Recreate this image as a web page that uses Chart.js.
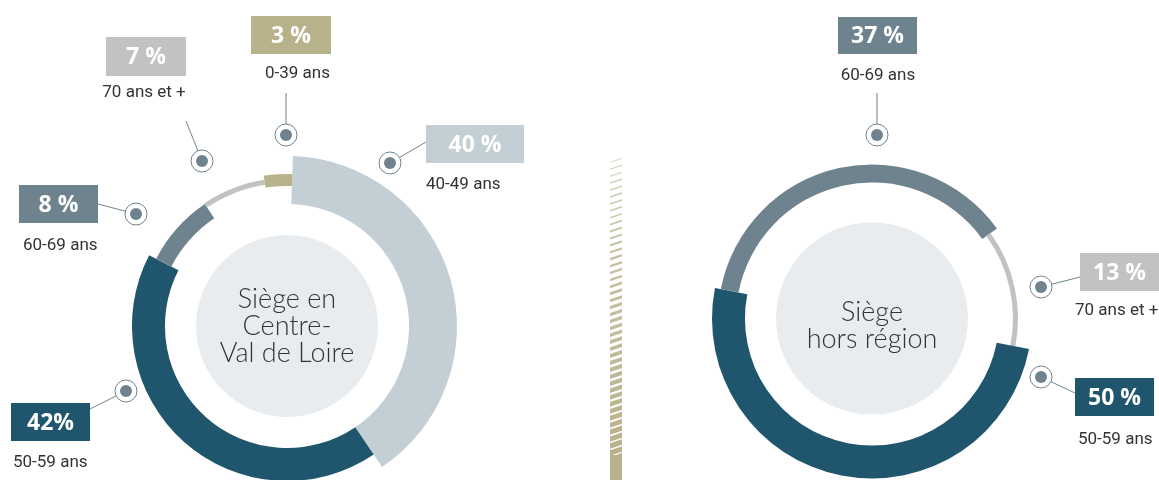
<!DOCTYPE html>
<html>
<head>
<meta charset="utf-8">
<script src="https://cdn.jsdelivr.net/npm/chart.js@4.4.1/dist/chart.umd.min.js"></script>
<style>
  html, body { margin: 0; padding: 0; background: #fff; width: 1159px; height: 480px; overflow: hidden; }
  canvas { position: absolute; left: 0; top: 0; }
</style>
</head>
<body>
<canvas id="hatch" width="1159" height="480"></canvas>
<canvas id="left" width="1159" height="520"></canvas>
<canvas id="right" width="1159" height="520"></canvas>
<script>
// Siège en Centre-Val de Loire
const leftAges      = ['40-49 ans', '50-59 ans', '60-69 ans', '70 ans et +', '0-39 ans'];
const leftShares    = [40, 42, 8, 7, 3];
const leftPctLabels = ['40 %', '42%', '8 %', '7 %', '3 %'];
const leftTitle     = ['Siège en', 'Centre-', 'Val de Loire'];

// Siège hors région
const rightAges      = ['60-69 ans', '70 ans et +', '50-59 ans'];
const rightShares    = [37, 13, 50];
const rightPctLabels = ['37 %', '13 %', '50 %'];
const rightTitle     = ['Siège', 'hors région'];

const ageColors = {
  '0-39 ans':    '#b8b28b',
  '40-49 ans':   '#c3ced5',
  '50-59 ans':   '#1f566e',
  '60-69 ans':   '#6f838f',
  '70 ans et +': '#c2c2c2'
};

// épaisseur de chaque segment : [rayon intérieur, rayon extérieur] en fraction du rayon max
const leftBands = {
  '40-49 ans':   [0.718, 1.0],
  '50-59 ans':   [0.718, 0.912],
  '60-69 ans':   [0.765, 0.865],
  '70 ans et +': [0.841, 0.871],
  '0-39 ans':    [0.824, 0.894]
};
const rightBands = {
  '60-69 ans':   [0.85, 0.9625],
  '70 ans et +': [0.881, 0.9125],
  '50-59 ans':   [0.794, 1.0]
};

// emplacement des étiquettes, relatif au centre du graphique
const leftCallouts = {
  '40-49 ans':   { dot: [103, -163], line: [139, -184], box: [139, -201, 98, 38], text: [139, -141, 'left'] },
  '50-59 ans':   { dot: [-161, 65],  line: [-197, 83],  box: [-276, 77, 79, 38],  text: [-274, 137, 'left'] },
  '60-69 ans':   { dot: [-151, -112], line: [-189, -122], box: [-268, -141, 79, 38], text: [-264, -80, 'left'] },
  '70 ans et +': { dot: [-85, -165], line: [-101, -205], box: [-181, -289, 80, 39], text: [-143, -233, 'center'] },
  '0-39 ans':    { dot: [-1, -191],  line: [-1, -233],  box: [-36, -310, 80, 38],  text: [43, -252, 'right'] }
};
const rightCallouts = {
  '60-69 ans':   { dot: [5, -183.5],  line: [5, -225.5],  box: [-34, -301.5, 79, 37], text: [6, -242.5, 'center'] },
  '70 ans et +': { dot: [169, -31.5], line: [208, -41.5], box: [208, -65.5, 79, 38],  text: [203, -7.5, 'left'] },
  '50-59 ans':   { dot: [169, 58.5],  line: [203, 74.5],  box: [203, 59.5, 79, 38],   text: [206, 121.5, 'left'] }
};

const ringPlugin = {
  id: 'ring',
  afterDatasetUpdate(chart, args) {
    const o = chart.options.plugins.ring;
    const meta = args.meta;
    const R = meta.controller.outerRadius;
    meta.data.forEach((arc, i) => {
      const b = o.bands[chart.data.labels[i]];
      arc.innerRadius = R * b[0];
      arc.outerRadius = R * b[1];
    });
  },
  beforeDatasetsDraw(chart) {
    const o = chart.options.plugins.ring;
    const meta = chart.getDatasetMeta(0);
    const arc = meta.data[0];
    const R = meta.controller.outerRadius;
    const ctx = chart.ctx;
    ctx.save();
    ctx.fillStyle = '#e8ecef';
    ctx.beginPath();
    ctx.arc(arc.x, arc.y, R * o.disc, 0, Math.PI * 2);
    ctx.fill();
    ctx.fillStyle = '#333';
    ctx.font = '300 27px Lato, "Open Sans", sans-serif';
    ctx.textAlign = 'center';
    ctx.textBaseline = 'middle';
    const lh = 27;
    const y0 = arc.y + o.titleShift - (o.title.length - 1) * lh / 2;
    o.title.forEach((t, k) => ctx.fillText(t, arc.x, y0 + k * lh));
    ctx.restore();
  },
  afterDraw(chart) {
    const o = chart.options.plugins.ring;
    const arc = chart.getDatasetMeta(0).data[0];
    const cx = arc.x, cy = arc.y;
    const ctx = chart.ctx;
    ctx.save();
    chart.data.labels.forEach((age, i) => {
      const c = o.callouts[age];
      const dx = cx + c.dot[0], dy = cy + c.dot[1];
      // trait
      ctx.strokeStyle = '#6f838f';
      ctx.lineWidth = 1;
      ctx.beginPath();
      ctx.moveTo(dx, dy);
      ctx.lineTo(cx + c.line[0], cy + c.line[1]);
      ctx.stroke();
      // pastille
      ctx.fillStyle = '#fff';
      ctx.beginPath();
      ctx.arc(dx, dy, 11, 0, Math.PI * 2);
      ctx.fill();
      ctx.stroke();
      ctx.fillStyle = '#6f838f';
      ctx.beginPath();
      ctx.arc(dx, dy, 6, 0, Math.PI * 2);
      ctx.fill();
      // boîte du pourcentage
      const [bx, by, bw, bh] = c.box;
      ctx.fillStyle = ageColors[age];
      ctx.fillRect(cx + bx, cy + by, bw, bh);
      ctx.fillStyle = '#fff';
      ctx.font = '700 23px "Open Sans", sans-serif';
      ctx.textAlign = 'center';
      ctx.textBaseline = 'middle';
      ctx.fillText(o.pct[i], cx + bx + bw / 2, cy + by + bh / 2 + 1);
      // tranche d'âge
      ctx.fillStyle = '#333';
      ctx.font = '17px Roboto, sans-serif';
      ctx.textAlign = c.text[2];
      ctx.fillText(age, cx + c.text[0], cy + c.text[1]);
    });
    ctx.restore();
  }
};

function makeRing(id, ages, shares, pct, title, bands, callouts, rotation, padding, disc, titleShift) {
  return new Chart(document.getElementById(id), {
    type: 'doughnut',
    data: {
      labels: ages,
      datasets: [{
        data: shares,
        backgroundColor: ages.map(a => ageColors[a]),
        borderWidth: 0,
        hoverBorderWidth: 0,
        hoverOffset: 0,
        offset: 0
      }]
    },
    options: {
      responsive: false,
      animation: false,
      events: [],
      rotation: rotation,
      layout: { padding: padding },
      plugins: {
        legend: { display: false },
        tooltip: { enabled: false },
        ring: { bands, callouts, pct, title, disc, titleShift }
      }
    },
    plugins: [ringPlugin]
  });
}

makeRing('left', leftAges, leftShares, leftPctLabels, leftTitle, leftBands, leftCallouts,
  2, { left: 117, top: 156, right: 702, bottom: 24 }, 0.535, 0);
makeRing('right', rightAges, rightShares, rightPctLabels, rightTitle, rightBands, rightCallouts,
  -79, { left: 712, top: 158.5, right: 127, bottom: 41.5 }, 0.6, 7);

// séparateur hachuré
(function () {
  const ctx = document.getElementById('hatch').getContext('2d');
  ctx.fillStyle = '#b8b28b';
  const x0 = 610, x1 = 622, top = 158, solid = 453;
  const n = 44;
  for (let k = 0; k < n; k++) {
    const f = k / (n - 1);
    const y = top + (solid - top) * f;
    const t = 0.8 + 4.8 * f;
    ctx.globalAlpha = 0.7 + 0.3 * f;
    ctx.beginPath();
    ctx.moveTo(x0, y + 4);
    ctx.lineTo(x1, y);
    ctx.lineTo(x1, y + t);
    ctx.lineTo(x0, y + 4 + t);
    ctx.closePath();
    ctx.fill();
  }
  ctx.globalAlpha = 1;
  ctx.fillRect(x0, solid + 2, x1 - x0, 480 - solid);
})();
</script>
</body>
</html>
